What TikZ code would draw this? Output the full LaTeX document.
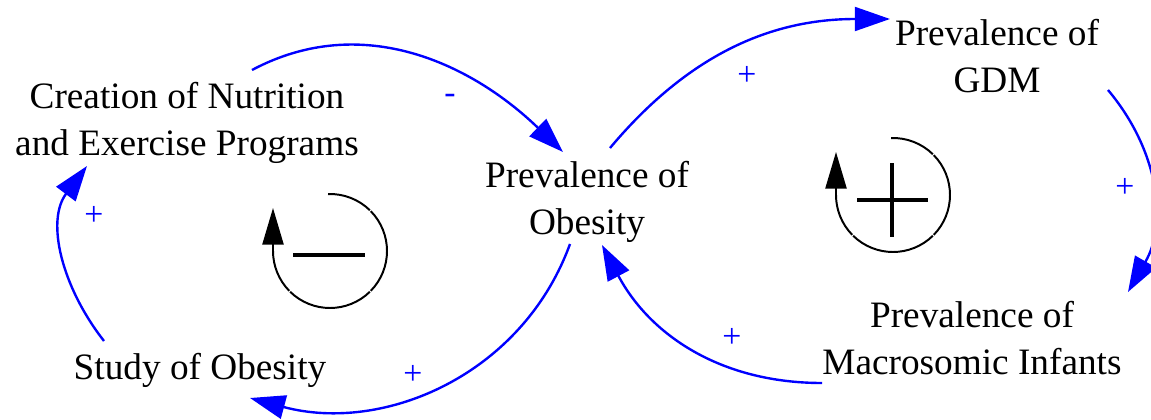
\documentclass[tikz,border=0pt]{standalone}
\usepackage{fontspec}
\setmainfont{Liberation Serif}
\usetikzlibrary{calc,arrows.meta}

\begin{document}
\begin{tikzpicture}[x=0.025cm, y=0.025cm,
  var/.style={align=center, inner sep=0pt, font=\fontsize{26.5}{33.5}\selectfont},
  link/.style={draw=blue, line width=1.7pt, -{Triangle[length=25pt,width=17pt]}},
  sign/.style={text=blue, inner sep=0pt, font=\fontsize{24}{28}\selectfont},
  loopline/.style={line width=1.4pt},
  looptip/.style={loopline, -{Triangle[length=26pt,width=15pt]}}]
\useasboundingbox (0,0) rectangle (1151,-420);
\node[var] (crea) at (187,-123) {Creation of Nutrition\\and Exercise Programs};
\node[var] (obes) at (587,-202) {Prevalence of\\Obesity};
\node[var] (gdm) at (997,-56) {Prevalence of\\GDM};
\node[var] (macro) at (972,-338) {Prevalence of\\Macrosomic Infants};
\node[var] (study) at (200,-370) {Study of Obesity};
% causal links
\draw[link] ($(crea)+(65,53)$) to[out=28, in=136] ($(obes)+(-24,50)$);
\draw[link] ($(obes)+(23,54)$) to[out=50, in=180] ($(gdm)+(-107,37)$);
\draw[link] ($(gdm)+(111,-34)$) to[out=-50, in=60] ($(macro)+(156,46)$);
\draw[link] ($(macro)+(-150,-45)$) to[out=180, in=-62] ($(obes)+(15,-43)$);
\draw[link] ($(obes)+(-17,-42)$) to[out=-110, in=-15] ($(study)+(50,-28)$);
\draw[link] ($(study)+(-96,29)$) to[out=128, in=-127] ($(crea)+(-100,-43)$);
% polarities
\node[sign] (s1) at (450,-99) {-};
\node[sign] (s2) at (747,-76) {+};
\node[sign] (s3) at (1125,-188) {+};
\node[sign] (s4) at (732,-338) {+};
\node[sign] (s5) at (413,-375) {+};
\node[sign] (s6) at (94,-216) {+};
% loop symbols
\coordinate (negc) at (330,-251);
\coordinate (posc) at (893,-195);
\foreach \c in {negc,posc} {
  \foreach \a/\b in {92/45.6, 44.4/-44.4, -45.6/-134.4}
    \draw[loopline] (\c) ++(\a:57) arc[start angle=\a, end angle=\b, radius=57];
  \draw[looptip] (\c) ++(-135.6:57) arc[start angle=-135.6, end angle=-180, radius=57] -- ++(0,43);
}
\draw[line width=3.2pt] (293,-255) -- (365,-255);
\draw[line width=2.8pt] (857,-200) -- (928,-200) (892,-163) -- (892,-237);
\end{tikzpicture}
\end{document}
